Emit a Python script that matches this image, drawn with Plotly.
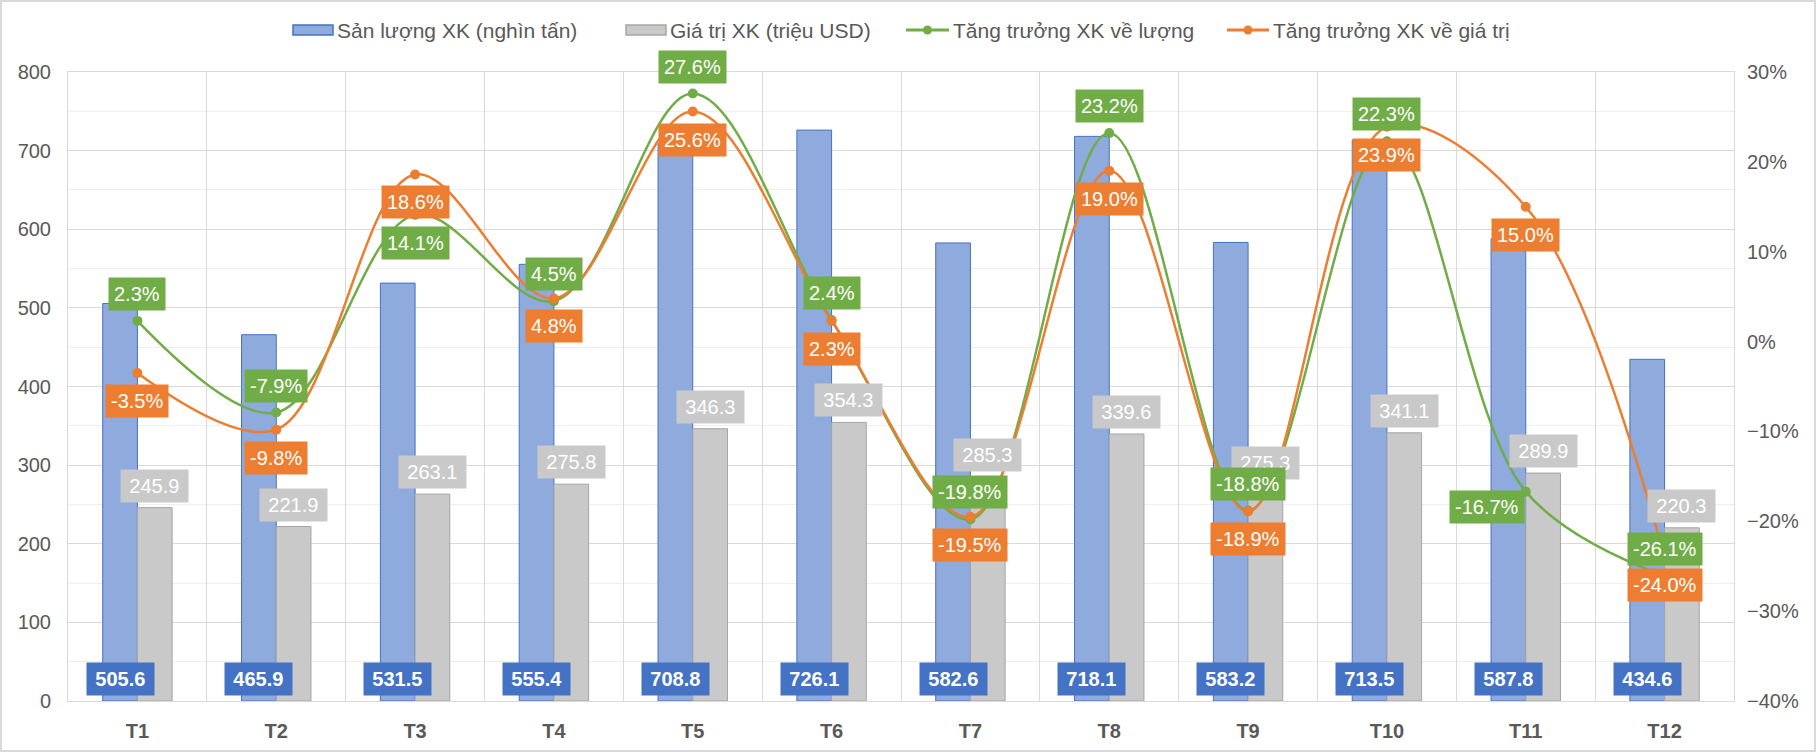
import plotly.graph_objects as go

months = ["T1", "T2", "T3", "T4", "T5", "T6", "T7", "T8", "T9", "T10", "T11", "T12"]
san_luong = [505.6, 465.9, 531.5, 555.4, 708.8, 726.1, 582.6, 718.1, 583.2, 713.5, 587.8, 434.6]
gia_tri = [245.9, 221.9, 263.1, 275.8, 346.3, 354.3, 285.3, 339.6, 275.3, 341.1, 289.9, 220.3]
tang_truong_luong = [2.3, -7.9, 14.1, 4.5, 27.6, 2.4, -19.8, 23.2, -18.8, 22.3, -16.7, -26.1]
tang_truong_gia_tri = [-3.5, -9.8, 18.6, 4.8, 25.6, 2.3, -19.5, 19.0, -18.9, 23.9, 15.0, -24.0]

names = ["Sản lượng XK (nghìn tấn)", "Giá trị XK (triệu USD)",
         "Tăng trưởng XK về lượng", "Tăng trưởng XK về giá trị"]

# label placement styles (not data)
green_pos = ["above", "above", "below", "above", "above", "above", "above", "above", "above", "above", "left", "above"]

BLUE_FILL = "#8FAADC"
BLUE = "#4472C4"
GREY_FILL = "#C9C9C9"
GREY_LINE = "#A5A5A5"
GREEN = "#70AD47"
ORANGE = "#ED7D31"
TXT = "#595959"
FONT = "Liberation Sans, Arial, sans-serif"
FS = 20
SP = "\u2006"

W, H = 1816, 752
ML, MR, MT, MB = 68, 82, 72, 51
pw = W - ML - MR
ph = H - MT - MB


def px_x(p):
    return (p - ML) / pw


def px_y(p):
    return 1 - (p - MT) / ph


fig = go.Figure()
fig.add_trace(go.Bar(x=months, y=san_luong, name=names[0],
                     marker=dict(color=BLUE_FILL, line=dict(color=BLUE, width=1)), yaxis="y"))
fig.add_trace(go.Bar(x=months, y=gia_tri, name=names[1],
                     marker=dict(color=GREY_FILL, line=dict(color=GREY_LINE, width=1)), yaxis="y"))
fig.add_trace(go.Scatter(x=months, y=tang_truong_luong, name=names[2],
                         mode="lines+markers", line=dict(color=GREEN, width=2.5, shape="spline", smoothing=1.0),
                         marker=dict(size=10, color=GREEN), yaxis="y2"))
fig.add_trace(go.Scatter(x=months, y=tang_truong_gia_tri, name=names[3],
                         mode="lines+markers", line=dict(color=ORANGE, width=2.5, shape="spline", smoothing=1.0),
                         marker=dict(size=10, color=ORANGE), yaxis="y2"))

ann = []
for i, m in enumerate(months):
    ann.append(dict(x=i - 0.125, y=0, xref="x", yref="y", text=f"{SP}<b>{san_luong[i]:.1f}</b>{SP}",
                    showarrow=False, yanchor="bottom", yshift=5, bgcolor=BLUE, borderpad=5,
                    font=dict(color="white", size=FS, family=FONT)))
    ann.append(dict(x=i + 0.125, y=gia_tri[i], xref="x", yref="y", text=f"{SP}{gia_tri[i]:.1f}{SP}",
                    showarrow=False, yanchor="bottom", yshift=5, bgcolor=GREY_FILL, borderpad=5,
                    font=dict(color="white", size=FS, family=FONT)))
    p = green_pos[i]
    g = dict(x=i, y=tang_truong_luong[i], xref="x", yref="y2", text=f"{tang_truong_luong[i]:.1f}%",
             showarrow=False, bgcolor=GREEN, borderpad=5, font=dict(color="white", size=FS, family=FONT))
    if p == "above":
        g.update(yanchor="bottom", yshift=10)
    elif p == "below":
        g.update(yanchor="top", yshift=-11)
    else:
        g.update(xanchor="right", xshift=-1, yanchor="top", yshift=2)
    ann.append(g)
    ann.append(dict(x=i, y=tang_truong_gia_tri[i], xref="x", yref="y2", text=f"{tang_truong_gia_tri[i]:.1f}%",
                    showarrow=False, yanchor="top", yshift=-11, bgcolor=ORANGE, borderpad=5,
                    font=dict(color="white", size=FS, family=FONT)))

shapes = [dict(type="rect", xref="paper", yref="paper",
               x0=px_x(1), x1=px_x(W - 1), y0=px_y(H - 1), y1=px_y(1),
               line=dict(color="#D9D9D9", width=2), fillcolor="rgba(0,0,0,0)", layer="below")]

# manual legend (pixel positions of swatches)
LEG_Y = 30
leg_items = [("rect", 293, 333, BLUE_FILL, BLUE, names[0]),
             ("rect", 626, 666, GREY_FILL, GREY_LINE, names[1]),
             ("line", 906, 949, GREEN, GREEN, names[2]),
             ("line", 1227, 1269, ORANGE, ORANGE, names[3])]
for kind, a, b, fill, line, txt in leg_items:
    if kind == "rect":
        shapes.append(dict(type="rect", xref="paper", yref="paper",
                           x0=px_x(a), x1=px_x(b), y0=px_y(LEG_Y + 5), y1=px_y(LEG_Y - 5),
                           fillcolor=fill, line=dict(color=line, width=1.5)))
    else:
        shapes.append(dict(type="line", xref="paper", yref="paper",
                           x0=px_x(a), x1=px_x(b), y0=px_y(LEG_Y), y1=px_y(LEG_Y),
                           line=dict(color=line, width=3)))
        c = (a + b) / 2
        shapes.append(dict(type="circle", xref="paper", yref="paper",
                           x0=px_x(c - 4.5), x1=px_x(c + 4.5), y0=px_y(LEG_Y + 4.5), y1=px_y(LEG_Y - 4.5),
                           fillcolor=line, line=dict(color=line, width=0)))
    ann.append(dict(x=px_x(b + 2), y=px_y(LEG_Y), xref="paper", yref="paper", text=txt,
                    showarrow=False, xanchor="left", yanchor="middle",
                    font=dict(size=21, color=TXT, family=FONT)))

fig.update_layout(
    width=W, height=H,
    margin=dict(l=ML, r=MR, t=MT, b=MB, autoexpand=False),
    paper_bgcolor="white", plot_bgcolor="white",
    font=dict(family=FONT, color=TXT, size=FS),
    barmode="group", bargap=0.5, bargroupgap=0,
    showlegend=False,
    xaxis=dict(type="category", range=[-0.5, 11.5], showgrid=True, gridcolor="#D9D9D9", gridwidth=1,
               tickson="boundaries", ticks="", showline=True, linecolor="#D9D9D9", mirror=True,
               tickfont=dict(size=FS, color=TXT, family=FONT), ticklabelstandoff=12,
               tickprefix="<b>", ticksuffix="</b>", automargin=False),
    yaxis=dict(range=[0, 800], dtick=100, showgrid=True, gridcolor="#D9D9D9", gridwidth=1,
               minor=dict(dtick=50, showgrid=True, gridcolor="#EEEEEE", gridwidth=1),
               zeroline=False, showline=True, linecolor="#D9D9D9", mirror=True,
               tickfont=dict(size=FS, color=TXT), ticklabelstandoff=12, automargin=False),
    yaxis2=dict(range=[-40, 30], dtick=10, overlaying="y", side="right", showgrid=False,
                zeroline=False, ticksuffix="%", tickfont=dict(size=FS, color=TXT),
                ticklabelstandoff=12, automargin=False),
    annotations=ann,
    shapes=shapes,
)

fig.write_html("out.html", config={"displayModeBar": False},
               post_script="document.body.style.margin='0';document.body.style.overflow='hidden';")
